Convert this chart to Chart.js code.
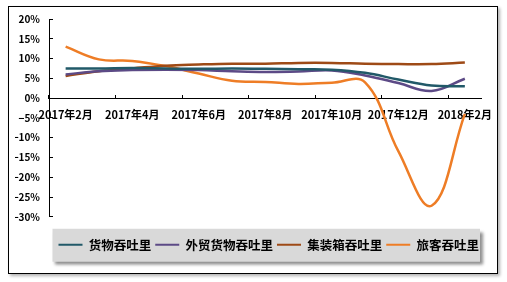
<!DOCTYPE html>
<html>
<head>
<meta charset="utf-8">
<script src="https://cdn.jsdelivr.net/npm/chart.js@4.4.1/dist/chart.umd.min.js"></script>
<style>
  html, body { margin: 0; padding: 0; background: #fff; }
  .frame {
    position: absolute; left: 8px; top: 6px; width: 488px; height: 266px;
    border: 1px solid #000; box-shadow: 2px 2px 3px rgba(0,0,0,0.3);
  }
  #chart { position: absolute; left: 0; top: 0; }
</style>
</head>
<body>
<div class="frame"></div>
<canvas id="chart" width="507" height="282"></canvas>
<script>
const months = ['2017年2月', '2017年3月', '2017年4月', '2017年5月', '2017年6月', '2017年7月',
    '2017年8月', '2017年9月', '2017年10月', '2017年11月', '2017年12月', '2018年1月', '2018年2月'];

const cargo = [7.5, 7.5, 7.6, 7.5, 7.4, 7.5, 7.4, 7.3, 7.2, 6.4, 4.7, 3.2, 3.0];
const foreignTrade = [6.0, 6.8, 7.1, 7.2, 7.1, 6.8, 6.6, 6.7, 7.0, 5.7, 3.8, 1.8, 4.9];
const container = [5.6, 6.8, 7.5, 8.2, 8.5, 8.7, 8.7, 8.9, 8.9, 8.7, 8.6, 8.6, 9.0];
const passenger = [13.0, 9.8, 9.4, 8.1, 6.2, 4.4, 4.1, 3.6, 3.9, 4.0, -13.4, -27.2, -4.0];

const seriesNames = ['货物吞吐里', '外贸货物吞吐里', '集装箱吞吐里', '旅客吞吐里'];
const seriesColors = ['#215968', '#5c4a86', '#9e4a16', '#ee7d26'];

const font = '"Noto Sans CJK SC", "Noto Sans", sans-serif';

function line(i, data) {
    return {
        label: seriesNames[i],
        data: data,
        borderColor: seriesColors[i],
        backgroundColor: seriesColors[i],
        borderWidth: 2.5,
        pointRadius: 0,
        tension: 0.4,
        fill: false
    };
}

// grey box with shadow behind the legend items
const legendBox = {
    id: 'legendBox',
    beforeDraw(chart) {
        const boxes = chart.legend.legendHitBoxes;
        if (!boxes || !boxes.length) return;
        const first = boxes[0], last = boxes[boxes.length - 1];
        const left = first.left - 6;
        const right = last.left + last.width + 1;
        const mid = first.top + first.height / 2;
        const c = chart.ctx;
        c.save();
        c.shadowColor = 'rgba(0,0,0,0.45)';
        c.shadowOffsetX = 3;
        c.shadowOffsetY = 3;
        c.shadowBlur = 3;
        c.fillStyle = '#d9d9d9';
        c.fillRect(left, mid - 16, right - left, 33);
        c.restore();
    }
};

new Chart(document.getElementById('chart'), {
    type: 'line',
    data: {
        labels: months,
        datasets: [line(0, cargo), line(1, foreignTrade), line(2, container), line(3, passenger)]
    },
    plugins: [legendBox],
    options: {
        responsive: false,
        animation: false,
        devicePixelRatio: 1,
        layout: { padding: { left: 15, right: 24, top: 15, bottom: 21 } },
        scales: {
            x: {
                position: { y: 0 },
                offset: true,
                afterFit(s) { s.height = 0; },
                grid: {
                    offset: true,
                    drawOnChartArea: false,
                    tickLength: -4,
                    tickColor(ctx) {
                        return (ctx.index % 2 === 0 && ctx.index < 13) ? '#000' : 'rgba(0,0,0,0)';
                    }
                },
                border: { color: '#000', width: 1 },
                ticks: {
                    autoSkip: false,
                    maxRotation: 0,
                    padding: 14,
                    color: '#000',
                    font: { family: font, size: 11, weight: 'bold' },
                    callback: (v, i) => i % 2 ? '' : months[i]
                }
            },
            y: {
                min: -30,
                max: 20,
                afterFit(s) { s.width = 34; },
                grid: { drawOnChartArea: false, tickLength: -4, tickColor: '#000' },
                border: { color: '#000', width: 1 },
                ticks: {
                    stepSize: 5,
                    padding: 13,
                    color: '#000',
                    font: { family: font, size: 10, weight: 'bold' },
                    callback: v => (v < 0 ? '−' : '') + Math.abs(v) + '%'
                }
            }
        },
        plugins: {
            tooltip: { enabled: false },
            legend: {
                position: 'bottom',
                align: 'end',
                title: { display: true, text: ' ', font: { size: 1 }, padding: { top: 16.5, bottom: 0 } },
                labels: {
                    boxWidth: 24,
                    boxHeight: 2,
                    padding: 4,
                    color: '#000',
                    font: { family: font, size: 12.5, weight: 'bold' },
                    generateLabels(chart) {
                        return Chart.defaults.plugins.legend.labels.generateLabels(chart).map(it => {
                            it.lineWidth = 0;
                            it.fillStyle = it.strokeStyle;
                            return it;
                        });
                    }
                }
            }
        }
    }
});
</script>
</body>
</html>
